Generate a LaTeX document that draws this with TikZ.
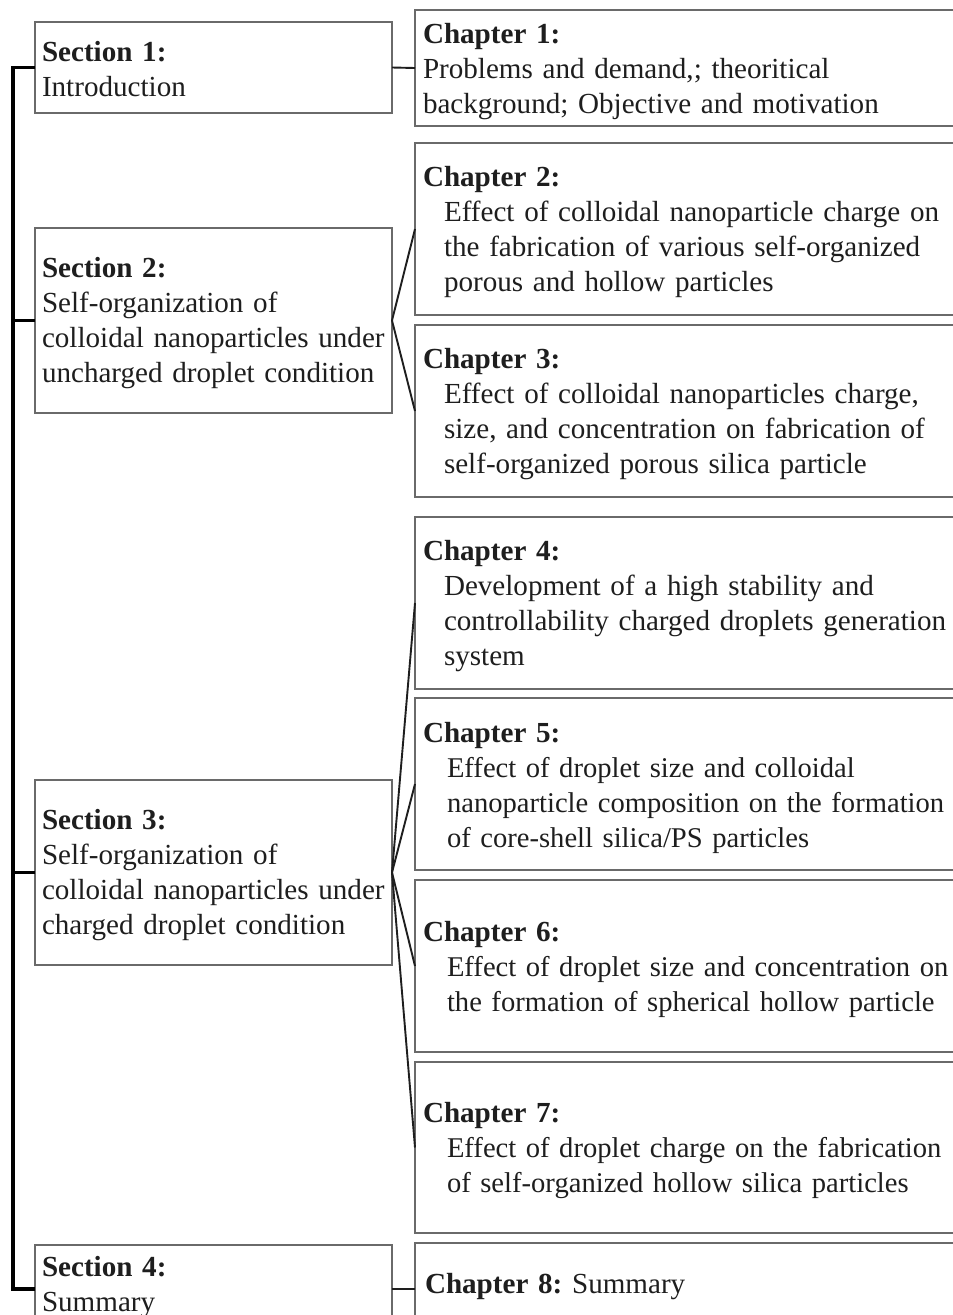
\documentclass[tikz,border=0pt]{standalone}
\usepackage{fontspec}
\setmainfont{Liberation Serif}
\definecolor{boxgray}{HTML}{6A6A6A}
\definecolor{ink}{HTML}{1E1E1E}
\begin{document}
\frenchspacing
\begin{tikzpicture}[x=1pt,y=-1pt,
  box/.style={draw=boxgray,line width=1.2pt,anchor=north west,inner sep=0pt,outer sep=0pt},
  secbox/.style={box,minimum width=357pt},
  chapbox/.style={box,minimum width=560pt},
  txt/.style={anchor=base west,inner sep=0pt,outer sep=0pt,align=left,text width=600pt,text=ink,font=\fontsize{29.1}{35}\selectfont\frenchspacing},
  txtn/.style={txt,font=\fontsize{28.6}{35}\selectfont\frenchspacing},
  link/.style={draw=ink,line width=1.9pt},
  rail/.style={draw=black,line width=3.6pt}]
\useasboundingbox[fill=white] (0,0) rectangle (953,1315);
\clip (0,0) rectangle (953,1315);
% section boxes
\node[secbox,minimum height=91pt] (S1) at (35,22) {};
\node[secbox,minimum height=185pt] (S2) at (35,228) {};
\node[secbox,minimum height=185pt] (S3) at (35,780) {};
\node[secbox,minimum height=88pt] (S4) at (35,1245) {};
% chapter boxes
\node[chapbox,minimum height=116pt] (C1) at (415,10) {};
\node[chapbox,minimum height=172pt] (C2) at (415,143) {};
\node[chapbox,minimum height=172pt] (C3) at (415,325) {};
\node[chapbox,minimum height=172pt] (C4) at (415,517) {};
\node[chapbox,minimum height=172pt] (C5) at (415,698) {};
\node[chapbox,minimum height=172pt] (C6) at (415,880) {};
\node[chapbox,minimum height=171pt] (C7) at (415,1062) {};
\node[chapbox,minimum height=92pt] (C8) at (415,1243) {};
% left rail
\draw[rail] (S1.west) -- ++(-22,0) |- (S4.west);
\draw[rail] (S2.west) -- ++(-22,0);
\draw[rail] (S3.west) -- ++(-22,0);
% connectors
\draw[link] (S1.east) -- (C1.west);
\draw[link] (C2.west) -- (S2.east) -- (C3.west);
\draw[link] (C4.west) -- (S3.east) -- (C7.west);
\draw[link] (C5.west) -- (S3.east) -- (C6.west);
\draw[link] (S4.east) -- (C8.west);
% section texts
\node[txt] (S1t) at (42,61) {\textbf{Section 1:}\\Introduction};
\node[txt] (S2t) at (42,277) {\textbf{Section 2:}\\Self-organization of\\colloidal nanoparticles under\\uncharged droplet condition};
\node[txt] (S3t) at (42,829) {\textbf{Section 3:}\\Self-organization of\\colloidal nanoparticles under\\charged droplet condition};
\node[txt] (S4t) at (42,1276) {\textbf{Section 4:}\\Summary};
% chapter texts
\node[txt] (C1t) at (423,43) {\textbf{Chapter 1:}\\Problems and demand,; theoritical\\background; Objective and motivation};
\node[txt] (C2h) at (423,186) {\textbf{Chapter 2:}};
\node[txt] (C2b) at (444,221) {Effect of colloidal nanoparticle charge on\\the fabrication of various self-organized\\porous and hollow particles};
\node[txt] (C3h) at (423,368) {\textbf{Chapter 3:}};
\node[txt] (C3b) at (444,403) {Effect of colloidal nanoparticles charge,\\size, and concentration on fabrication of\\self-organized porous silica particle};
\node[txt] (C4h) at (423,560) {\textbf{Chapter 4:}};
\node[txt] (C4b) at (444,595) {Development of a high stability and\\controllability charged droplets generation\\system};
\node[txt] (C5h) at (423,742) {\textbf{Chapter 5:}};
\node[txtn] (C5b) at (447,777) {Effect of droplet size and colloidal\\nanoparticle composition on the formation\\of core-shell silica/PS particles};
\node[txt] (C6h) at (423,941) {\textbf{Chapter 6:}};
\node[txtn] (C6b) at (447,976) {Effect of droplet size and concentration on\\the formation of spherical hollow particle};
\node[txt] (C7h) at (423,1122) {\textbf{Chapter 7:}};
\node[txtn] (C7b) at (447,1157) {Effect of droplet charge on the fabrication\\of self-organized hollow silica particles};
\node[txt] (C8t) at (425,1293) {\textbf{Chapter 8:} Summary};
\end{tikzpicture}
\end{document}
